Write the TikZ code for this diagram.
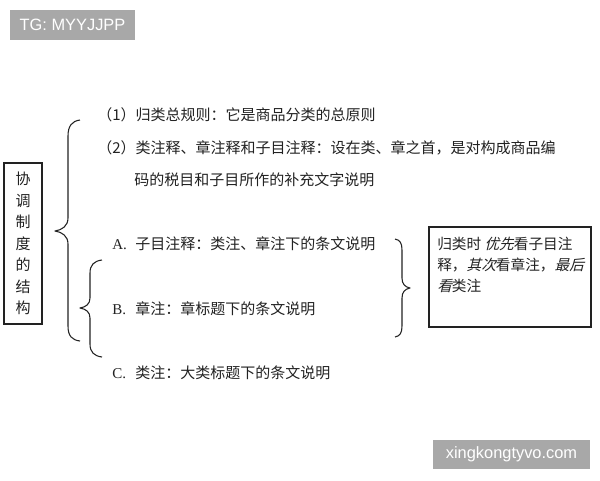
\documentclass[tikz,border=0pt]{standalone}
\usepackage{fontspec}
\setmainfont{Liberation Serif}
\newfontfamily\cjk{Noto Sans CJK SC}
\newfontfamily\cjkit{Noto Sans CJK SC}[FakeSlant=0.25]
\newfontfamily\wm{Liberation Sans}
\definecolor{ink}{HTML}{222222}
\definecolor{wmgray}{HTML}{A8A8A8}
\newcommand{\lab}[1]{\makebox[17.25pt][l]{\rmfamily #1}}
\begin{document}
\begin{tikzpicture}[x=0.75pt,y=-0.75pt,
  txt/.style={anchor=base west,inner sep=0pt,text=ink,font=\fontsize{11.25pt}{13pt}\selectfont\cjk},
  brace/.style={draw=ink,line width=0.8pt,line join=round},
  boxed/.style={draw=ink,line width=1.1pt,inner sep=0pt},
  wmark/.style={fill=wmgray,inner sep=0pt,text=white,font=\fontsize{12.3pt}{14pt}\selectfont\wm}]
\useasboundingbox (0,0) rectangle (600,480);
\fill[white] (0,0) rectangle (600,480);
% watermarks
\node[wmark,minimum width=93.75pt,minimum height=22.5pt] (wm1) at (72.5,25) {TG: MYYJJPP};
\node[wmark,minimum width=117.75pt,minimum height=21.75pt] (wm2) at (511.5,454.5) {xingkongtyvo.com};
% left box
\node[boxed,minimum width=28.5pt,minimum height=120.75pt,align=center,text=ink,
  font=\fontsize{11.25pt}{16.1pt}\selectfont\cjk] (lbox) at (23,243.5)
  {协\\调\\制\\度\\的\\结\\构};
% big brace
\draw[brace] (80,120) .. controls (72,121) and (68,126) .. (68,136) -- (68,218)
  .. controls (68,226) and (62,230) .. (55,231) .. controls (62,232) and (68,236) .. (68,244)
  -- (68,326) .. controls (68,336) and (72,340) .. (80,341);
% small brace
\draw[brace] (102,260) .. controls (94,261) and (90,265) .. (90,273) -- (90,298)
  .. controls (90,304) and (86,307) .. (80,308) .. controls (86,309) and (90,312) .. (90,318)
  -- (90,344) .. controls (90,352) and (94,356) .. (102,357);
% right brace
\draw[brace] (395,239) .. controls (400,240) and (402,243) .. (402,250) -- (402,278)
  .. controls (402,284) and (405,287) .. (410,288) .. controls (405,289) and (402,292) .. (402,298)
  -- (402,326) .. controls (402,333) and (400,336) .. (395,337);
% texts
\node[txt] (t1) at (97,120) {（1）归类总规则：它是商品分类的总原则};
\node[txt] (t2) at (97,153) {（2）类注释、章注释和子目注释：设在类、章之首，是对构成商品编};
\node[txt] (t3) at (134,185) {码的税目和子目所作的补充文字说明};
\node[txt] (ta) at (112,249) {\lab{A.}子目注释：类注、章注下的条文说明};
\node[txt] (tb) at (112,314) {\lab{B.}章注：章标题下的条文说明};
\node[txt] (tc) at (112,378.5) {\lab{C.}类注：大类标题下的条文说明};
% right box
\node[boxed,minimum width=121.5pt,minimum height=75pt] (rbox) at (510,277) {};
\node[txt,align=left,font=\fontsize{11pt}{15.75pt}\selectfont\cjk] (rtext) at (437,291.5)
  {归类时 {\cjkit 优先}看子目注\\释，{\cjkit 其次}看章注，{\cjkit 最后}\\{\cjkit 看}类注};
\end{tikzpicture}
\end{document}
